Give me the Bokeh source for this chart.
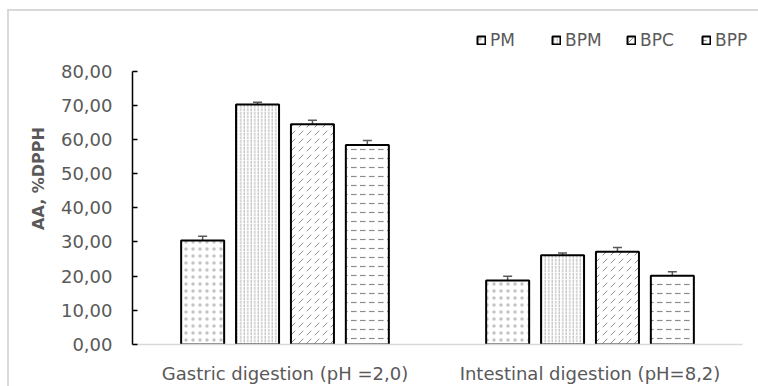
from bokeh.plotting import figure
from bokeh.models import (ColumnDataSource, Range1d, FixedTicker,
                          CustomJSTickFormatter, Whisker, TeeHead, Legend, LegendItem)
from bokeh.transform import dodge
from bokeh.embed import file_html
from bokeh.resources import INLINE

# ---- data ----
groups = ["Gastric digestion (pH =2,0)", "Intestinal digestion (pH=8,2)"]
series = ["PM", "BPM", "BPC", "BPP"]
pm = [30.4, 18.7]
bpm = [70.2, 26.1]
bpc = [64.4, 27.1]
bpp = [58.4, 20.1]
pm_err = [1.3, 1.3]
bpm_err = [0.7, 0.7]
bpc_err = [1.2, 1.3]
bpp_err = [1.3, 1.2]
y_ticks = [0, 10, 20, 30, 40, 50, 60, 70, 80]

values = {"PM": pm, "BPM": bpm, "BPC": bpc, "BPP": bpp}
errors = {"PM": pm_err, "BPM": bpm_err, "BPC": bpc_err, "BPP": bpp_err}

FONT = "DejaVu Sans"
GRAY = "#595959"
FRAME = "#d9d9d9"

# group centres on a numeric axis (one unit per group)
centers = [i + 0.5 for i in range(len(groups))]

p = figure(width=758, height=386, output_backend="svg", toolbar_location=None,
           x_range=Range1d(0, len(groups) + 10 / 305),
           y_range=Range1d(0, 338 / 3.48),
           min_border_left=132, min_border_right=6, min_border_top=12,
           min_border_bottom=36,
           styles={"background": (
               f"linear-gradient({FRAME},{FRAME}) 7px 9px / 2px 400px no-repeat, "
               f"linear-gradient({FRAME},{FRAME}) 7px 9px / 800px 2px no-repeat")})
p.outline_line_color = None
p.xgrid.grid_line_color = None
p.ygrid.grid_line_color = None
p.background_fill_color = None
p.border_fill_color = None

offsets = [-0.27, -0.09, 0.09, 0.27]
styles = {
    "PM": dict(hatch_pattern=".", hatch_scale=7, hatch_color="#c4c4c4", hatch_weight=0.6),
    "BPM": dict(hatch_pattern=":", hatch_scale=3.5, hatch_color="#b0b0b0", hatch_weight=1),
    "BPC": dict(hatch_pattern=",", hatch_scale=8, hatch_color="#8c8c8c", hatch_weight=1),
    "BPP": dict(hatch_pattern='"', hatch_scale=9, hatch_color="#8c8c8c", hatch_weight=1.2),
}

legend_items = []
for s, off in zip(series, offsets):
    vals = values[s]
    errs = errors[s]
    src = ColumnDataSource(dict(
        x=centers, top=vals,
        upper=[v + e for v, e in zip(vals, errs)],
        lower=[v - e for v, e in zip(vals, errs)],
    ))
    r = p.vbar(x=dodge("x", off), top="top", width=0.141, source=src,
               fill_color="white", line_color="black", line_width=2, **styles[s])
    w = Whisker(base=dodge("x", off), upper="upper", lower="lower",
                source=src, line_color=GRAY, line_width=1.5,
                upper_head=TeeHead(size=9, line_color=GRAY, line_width=1.5),
                lower_head=TeeHead(size=9, line_color=GRAY, line_width=1.5))
    p.add_layout(w)
    legend_items.append(LegendItem(label=s, renderers=[r]))

legend = Legend(items=legend_items, orientation="horizontal", location=(344, 294),
                glyph_width=10, glyph_height=10, label_standoff=4, label_width=50,
                spacing=11, padding=0, margin=0, border_line_color=None,
                background_fill_alpha=0, label_text_font=FONT,
                label_text_font_size="17px", label_text_color=GRAY, label_height=20)
p.add_layout(legend)

# y axis
yax = p.yaxis[0]
yax.ticker = FixedTicker(ticks=y_ticks)
yax.bounds = (0, 80)
yax.formatter = CustomJSTickFormatter(code="return tick.toFixed(2).replace('.', ',');")
yax.axis_line_color = "black"
yax.axis_line_width = 1.5
yax.major_tick_in = 5
yax.major_tick_out = 0
yax.major_tick_line_color = "black"
yax.major_tick_line_width = 1.5
yax.minor_tick_line_color = None
yax.major_label_standoff = 20
yax.major_label_text_font = FONT
yax.major_label_text_font_size = "18px"
yax.major_label_text_color = GRAY
yax.axis_label = "AA, %DPPH"
yax.axis_label_text_font = FONT
yax.axis_label_text_font_size = "16px"
yax.axis_label_text_font_style = "bold"
yax.axis_label_text_color = GRAY
yax.axis_label_standoff = 10

# x axis (group labels at group centres)
xax = p.xaxis[0]
xax.ticker = FixedTicker(ticks=centers)
xax.major_label_overrides = {c: g for c, g in zip(centers, groups)}
xax.bounds = (0, len(groups))
xax.axis_line_color = FRAME
xax.axis_line_width = 1.5
xax.major_tick_line_color = None
xax.minor_tick_line_color = None
xax.major_label_standoff = 12
xax.major_label_text_font = FONT
xax.major_label_text_font_size = "18px"
xax.major_label_text_color = GRAY

open("out.html", "w").write(file_html(p, INLINE))
